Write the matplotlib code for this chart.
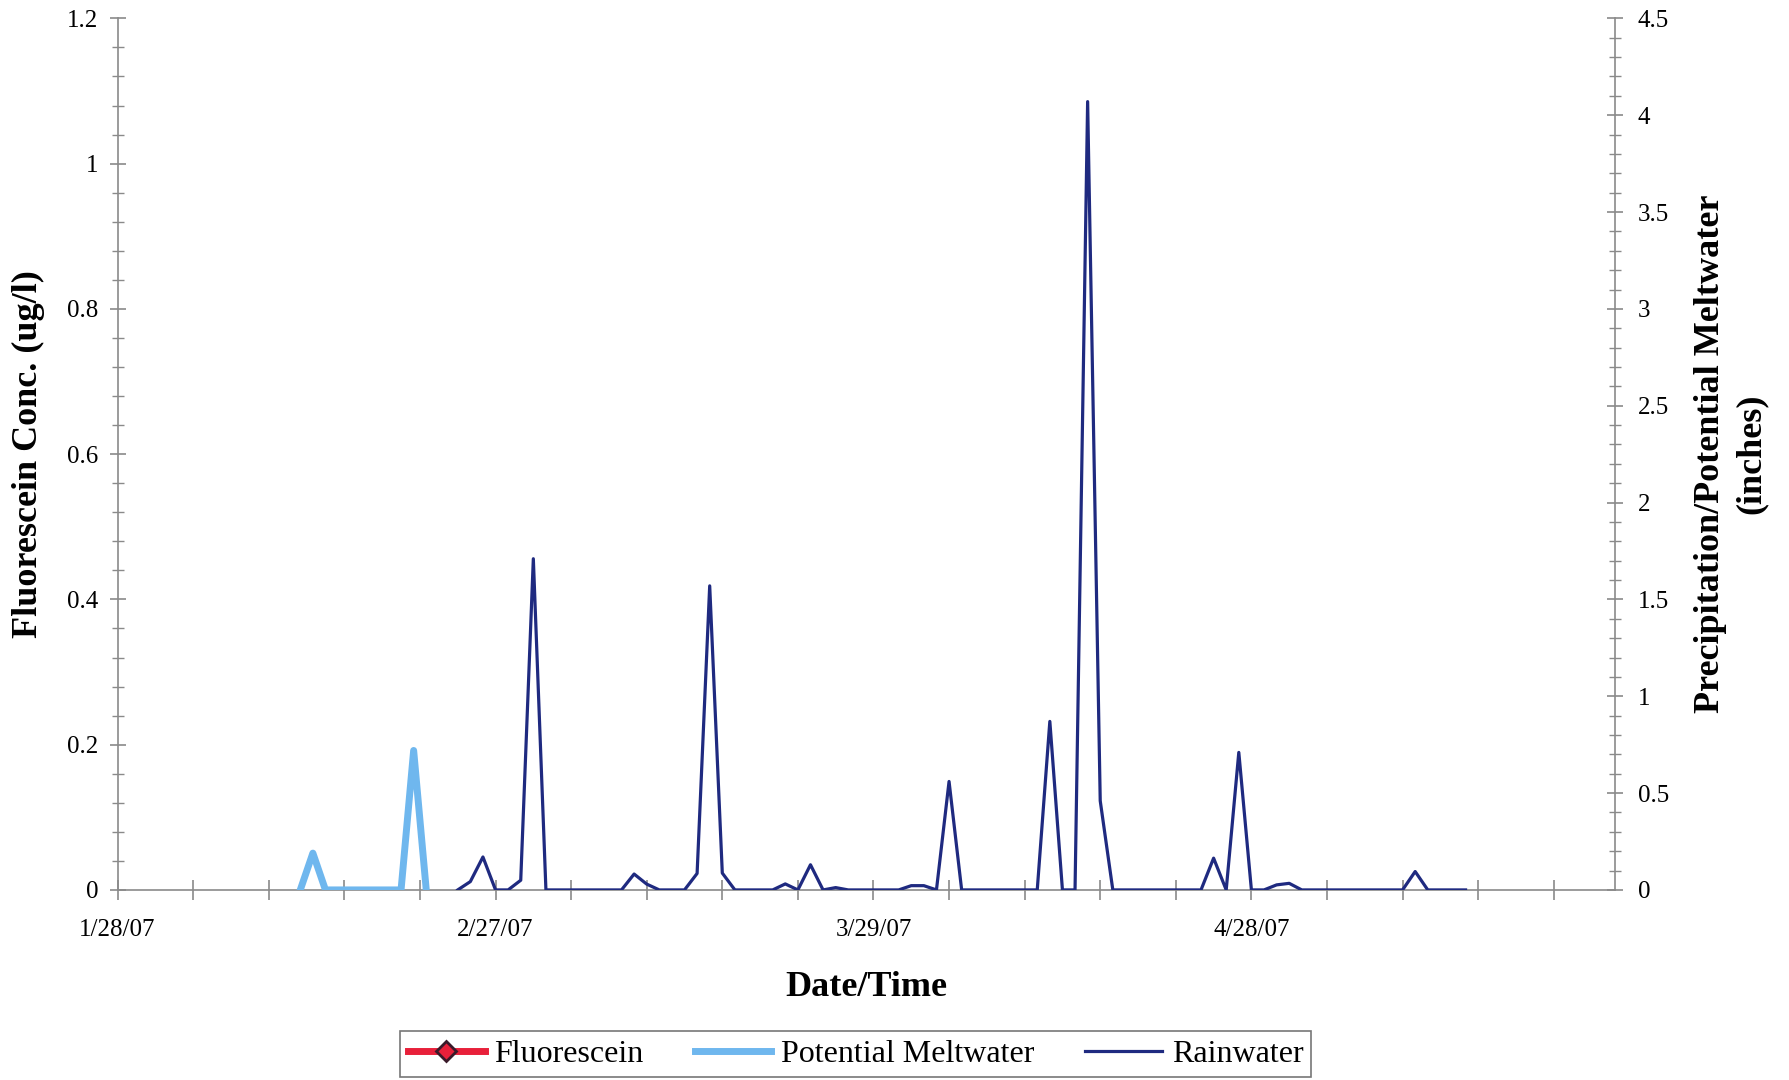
# Grafica de fluoresceina y precipitacion / agua de deshielo
# con dos ejes verticales

import matplotlib
matplotlib.use("Agg")
import matplotlib.pyplot as plt
import matplotlib.dates as mdates
from matplotlib.ticker import MultipleLocator, FixedLocator, FuncFormatter
import numpy as np
import pandas as pd

# datos de lluvia (un valor por dia, pulgadas)
lluvia_fechas = pd.date_range("2007-02-24", "2007-05-15", freq="D")
lluvia_valores = [
    0, 0.043, 0.17, 0, 0, 0.05, 1.71, 0, 0, 0,
    0, 0, 0, 0, 0.082, 0.03, 0, 0, 0, 0.085,
    1.57, 0.087, 0, 0, 0, 0, 0.031, 0, 0.13, 0,
    0.012, 0, 0, 0, 0, 0, 0.022, 0.022, 0, 0.56,
    0, 0, 0, 0, 0, 0, 0, 0.87, 0, 0,
    4.07, 0.46, 0, 0, 0, 0, 0, 0, 0, 0,
    0.164, 0, 0.71, 0, 0, 0.026, 0.034, 0, 0, 0,
    0, 0, 0, 0, 0, 0, 0.095, 0, 0, 0,
    0,
]

# datos de deshielo potencial (pulgadas)
deshielo_fechas = pd.date_range("2007-02-11 12:00", "2007-02-21 12:00", freq="D")
deshielo_valores = [0, 0.19, 0, 0, 0, 0, 0, 0, 0, 0.72, 0]

# fluoresceina (sin detecciones en el periodo)
fluor_fechas = []
fluor_valores = []

# etiquetas del eje x
fechas_eje = ["2007-01-28", "2007-02-27", "2007-03-29", "2007-04-28"]

# fuente tipo Times
plt.rcParams["font.family"] = ["Liberation Serif", "DejaVu Serif"]

gris = "#8a8a8a"
azul_osc = "#1f2a80"
azul_claro = "#6fb7ee"
rojo = "#e8203a"

# crear figura
fig = plt.figure(figsize=(17.9, 10.8), dpi=100)
ax = fig.add_axes([0.0657, 0.176, 0.8368, 0.807])
ax2 = ax.twinx()

# series
l1, = ax.plot(
    fluor_fechas, fluor_valores,
    color=rojo, linewidth=5, marker="D", markersize=10,
    markerfacecolor=rojo, markeredgecolor="#3a1a2a", markeredgewidth=2,
    label="Fluorescein"
)
l2, = ax2.plot(
    deshielo_fechas, deshielo_valores,
    color=azul_claro, linewidth=5, solid_joinstyle="round",
    label="Potential Meltwater"
)
l3, = ax2.plot(
    lluvia_fechas, lluvia_valores,
    color=azul_osc, linewidth=2.3,
    label="Rainwater"
)

# limites
x0 = mdates.date2num(pd.Timestamp(fechas_eje[0]))
ax.set_xlim(x0, x0 + 118.9)
ax.set_ylim(0, 1.2)
ax2.set_ylim(0, 4.5)

# eje x: etiquetas cada 30 dias, marcas cada 6 dias
ax.xaxis.set_major_locator(FixedLocator([mdates.date2num(pd.Timestamp(f)) for f in fechas_eje]))
ax.xaxis.set_minor_locator(FixedLocator(np.arange(x0, x0 + 118.9, 6)))
ax.xaxis.set_major_formatter(FuncFormatter(
    lambda v, p: "{}/{}/{}".format(mdates.num2date(v).month, mdates.num2date(v).day, mdates.num2date(v).strftime("%y"))
))

# ejes y
ax.yaxis.set_major_locator(MultipleLocator(0.2))
ax.yaxis.set_minor_locator(MultipleLocator(0.04))
ax.yaxis.set_major_formatter(FuncFormatter(lambda v, p: "%g" % round(v, 2)))
ax2.yaxis.set_major_locator(MultipleLocator(0.5))
ax2.yaxis.set_minor_locator(MultipleLocator(0.1))
ax2.yaxis.set_major_formatter(FuncFormatter(lambda v, p: "%g" % round(v, 2)))

# bordes
for a in (ax, ax2):
    a.spines["top"].set_visible(False)
    for s in ("left", "right", "bottom"):
        a.spines[s].set_color(gris)
        a.spines[s].set_linewidth(1.2)
ax.spines["right"].set_visible(False)
ax2.spines["left"].set_visible(False)
ax2.spines["bottom"].set_visible(False)

ax.tick_params(axis="x", which="both", direction="inout", length=14, width=1.2,
               color=gris, labelsize=18, pad=14)
ax.tick_params(axis="y", which="major", direction="inout", length=12, width=1.2,
               color=gris, labelsize=18, pad=8)
ax.tick_params(axis="y", which="minor", direction="inout", length=9, width=1,
               color=gris)
ax2.tick_params(axis="y", which="major", direction="inout", length=12, width=1.2,
                color=gris, labelsize=18, pad=10)
ax2.tick_params(axis="y", which="minor", direction="inout", length=9, width=1,
                color=gris)

# titulos de ejes
fig.text(0.016, 0.58, "Fluorescein Conc. (ug/l)", rotation=90,
         ha="center", va="center", fontsize=26, fontweight="bold")
fig.text(0.967, 0.58, "Precipitation/Potential Meltwater\n(inches)", rotation=90,
         ha="center", va="center", ma="center", fontsize=26, fontweight="bold",
         linespacing=1.3)
fig.text(0.484, 0.086, "Date/Time", ha="center", va="center",
         fontsize=26, fontweight="bold")

# leyenda
leg = fig.legend(
    handles=[l1, l2, l3], loc="lower center", bbox_to_anchor=(0.478, 0.003),
    ncol=3, fontsize=23, frameon=True, fancybox=False, edgecolor="#555555",
    handlelength=2.4, columnspacing=1.6, handletextpad=0.3, borderpad=0.25,
    borderaxespad=0
)
leg.get_frame().set_linewidth(1.2)

fig.savefig("out.png", dpi=100)
